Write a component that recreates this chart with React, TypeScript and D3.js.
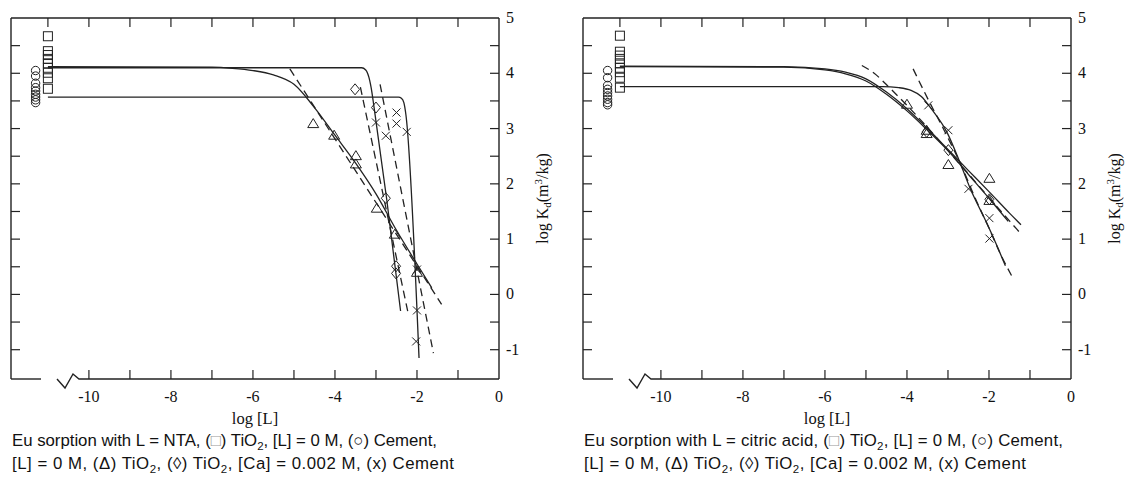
import React from 'react';
import * as d3 from 'd3';

type P = [number, number];

// ---- axis ticks ----
const xLabelTicks = [-10, -8, -6, -4, -2, 0];
const xTopTicks = [-11, -10, -9, -8, -7, -6, -5, -4, -3, -2, -1];
const xBottomTicks = [-10, -9, -8, -7, -6, -5, -4, -3, -2, -1];
const yLabelTicks = [-1, 0, 1, 2, 3, 4, 5];
const ySideTicks = [-1, -0.5, 0, 0.5, 1, 1.5, 2, 2.5, 3, 3.5, 4, 4.5];

// ---- NTA panel data ----
const ntaSquareX = -11;
const ntaSquares = [4.67, 4.4, 4.33, 4.26, 4.18, 4.1, 4.01, 3.91, 3.72];
const ntaCircleX = -11.3;
const ntaCircles = [4.05, 3.95, 3.82, 3.74, 3.68, 3.62, 3.57, 3.52, 3.47];
const ntaTriangles: P[] = [[-4.53, 3.09], [-4.02, 2.88], [-3.49, 2.51], [-3.49, 2.36], [-2.98, 1.56], [-2.54, 1.09], [-2.0, 0.4]];
const ntaDiamonds: P[] = [[-3.51, 3.71], [-3.0, 3.38], [-2.76, 1.74], [-2.51, 0.51], [-2.51, 0.38]];
const ntaCrosses: P[] = [[-3.0, 3.11], [-2.76, 2.87], [-2.5, 3.29], [-2.5, 3.09], [-2.25, 2.94], [-2.0, 0.45], [-2.0, -0.29], [-2.02, -0.85]];
const ntaFitTriangle: P[] = [[-11, 4.12], [-7, 4.11], [-6.5, 4.09], [-6, 4.05], [-5.5, 3.97], [-5, 3.8], [-4.5, 3.38], [-4, 2.88], [-3.5, 2.38], [-3, 1.82], [-2.5, 1.16], [-2, 0.55], [-1.64, 0.12]];
const ntaFitDiamond: P[] = [[-11, 4.1], [-3.35, 4.1], [-3.25, 4.06], [-3.17, 3.92], [-3.1, 3.66], [-3.05, 3.4], [-2.74, 1.73], [-2.4, -0.3]];
const ntaFitCross: P[] = [[-11, 3.57], [-2.45, 3.57], [-2.38, 3.55], [-2.32, 3.47], [-2.27, 3.25], [-1.95, -1.15]];
const ntaDashTriangle: P[] = [[-5.1, 4.08], [-1.4, -0.18]];
const ntaDashDiamond: P[] = [[-3.38, 3.75], [-2.21, -0.36]];
const ntaDashCross: P[] = [[-2.9, 3.8], [-1.6, -1.06]];

// ---- citric acid panel data ----
const citSquareX = -11;
const citSquares = [4.68, 4.39, 4.32, 4.26, 4.18, 4.1, 4.02, 3.92, 3.74];
const citCircleX = -11.3;
const citCircles = [4.05, 3.92, 3.78, 3.71, 3.65, 3.59, 3.53, 3.47, 3.43];
const citTriangles: P[] = [[-4.0, 3.44], [-3.52, 2.97], [-3.52, 2.91], [-2.99, 2.35], [-1.99, 2.1], [-1.99, 1.7]];
const citDiamonds: P[] = [[-3.52, 2.94], [-2.99, 2.61], [-1.99, 1.72]];
const citCrosses: P[] = [[-3.48, 3.42], [-2.99, 2.97], [-2.5, 1.91], [-1.99, 1.38], [-1.99, 1.01]];
const citFitTriangle: P[] = [[-11, 4.13], [-7, 4.12], [-6, 4.08], [-5.5, 4.02], [-5, 3.9], [-4.5, 3.66], [-4, 3.36], [-3.5, 3.0], [-3, 2.62], [-2.5, 2.24], [-2, 1.86], [-1.5, 1.47], [-1.22, 1.26]];
const citFitDiamond: P[] = [[-11, 4.12], [-7, 4.11], [-6, 4.06], [-5.5, 3.99], [-5, 3.86], [-4.5, 3.62], [-4, 3.32], [-3.5, 2.97], [-3, 2.6], [-2.5, 2.17], [-2, 1.74], [-1.53, 1.32]];
const citFitCross: P[] = [[-11, 3.76], [-4.6, 3.76], [-4.2, 3.74], [-3.9, 3.69], [-3.65, 3.58], [-3.4, 3.35], [-3.03, 2.94], [-2.71, 2.39], [-2.46, 1.92], [-2.06, 1.3], [-1.8, 0.87], [-1.6, 0.52]];
const citDashTriangle: P[] = [[-5.1, 4.14], [-4.8, 4.0], [-4.4, 3.72], [-4, 3.42], [-3.5, 3.02], [-3, 2.6], [-2.5, 2.18], [-2, 1.75], [-1.5, 1.33], [-1.25, 1.12]];
const citDashCross: P[] = [[-3.85, 4.08], [-3.5, 3.55], [-3.1, 2.98], [-2.7, 2.37], [-2.3, 1.68], [-2, 1.2], [-1.7, 0.7], [-1.45, 0.34]];

const captionLine2 = [
  { t: '[L] = 0 M, (Δ) TiO' }, { t: '2', sub: true }, { t: ', (◊) TiO' }, { t: '2', sub: true }, { t: ', [Ca] = 0.002 M, (x) Cement' },
];
const ntaCaption1 = [
  { t: 'Eu sorption with L = NTA, (' }, { t: '□', gray: true }, { t: ') TiO' }, { t: '2', sub: true }, { t: ', [L] = 0 M, (○) Cement,' },
];
const citCaption1 = [
  { t: 'Eu sorption with L = citric acid, (' }, { t: '□', gray: true }, { t: ') TiO' }, { t: '2', sub: true }, { t: ', [L] = 0 M, (○) Cement,' },
];

const INK = '#222';
const SERIF = '"Liberation Serif", "Times New Roman", serif';
const SANS = '"Liberation Sans", Arial, sans-serif';

type Seg = { t: string; sub?: boolean; gray?: boolean };

function Caption({ x, y, segs, width }: { x: number; y: number; segs: Seg[]; width: number }) {
  const out: React.ReactNode[] = [];
  let shifted = false;
  segs.forEach((s, i) => {
    if (s.sub) {
      out.push(<tspan key={i} dy={4} fontSize={11.5}>{s.t}</tspan>);
      shifted = true;
    } else {
      const dy = shifted ? -4 : 0;
      shifted = false;
      out.push(<tspan key={i} dy={dy} fill={s.gray ? '#999' : '#111'}>{s.t}</tspan>);
    }
  });
  return <text x={x} y={y} fontFamily={SANS} fontSize={16.8} fill="#111" textLength={width} lengthAdjust="spacing">{out}</text>;
}

type PanelProps = {
  x0: number;
  squareX: number; squares: number[];
  circleX: number; circles: number[];
  triangles: P[]; diamonds: P[]; crosses: P[];
  fits: P[][]; dashes: P[][];
  caption1: Seg[]; caption1Width: number;
};

function Panel(p: PanelProps) {
  const left = p.x0, right = p.x0 + 488, top = 18, bottom = 379;
  const x = d3.scaleLinear().domain([-11.9, 0]).range([left, right]);
  const y = d3.scaleLinear().domain([-1.53, 5]).range([bottom, top]);
  const line = d3.line<P>().x(d => x(d[0])).y(d => y(d[1])).curve(d3.curveMonotoneX);
  const tk = 9;
  const tri = (cx: number, cy: number) => `M${cx},${cy - 5}L${cx + 5.5},${cy + 4}L${cx - 5.5},${cy + 4}Z`;
  const dia = (cx: number, cy: number) => `M${cx},${cy - 5.5}L${cx + 4.5},${cy}L${cx},${cy + 5.5}L${cx - 4.5},${cy}Z`;
  const brk = p.x0 + 46;
  return (
    <g>
      {/* frame */}
      <line x1={left} x2={right} y1={top} y2={top} stroke={INK} strokeWidth={1.4} />
      <line x1={left} x2={left} y1={top} y2={bottom} stroke={INK} strokeWidth={1.4} />
      <line x1={right} x2={right} y1={top} y2={bottom} stroke={INK} strokeWidth={1.4} />
      <line x1={left} x2={left + 30} y1={bottom} y2={bottom} stroke={INK} strokeWidth={1.4} />
      <polyline points={`${brk},${bottom} ${brk + 8},${bottom + 9} ${brk + 16},${bottom - 5} ${brk + 22},${bottom} ${right},${bottom}`} fill="none" stroke={INK} strokeWidth={1.4} />
      {/* ticks */}
      {xTopTicks.map(v => <line key={'t' + v} x1={x(v)} x2={x(v)} y1={top} y2={top + tk} stroke={INK} strokeWidth={1.2} />)}
      {xBottomTicks.map(v => <line key={'b' + v} x1={x(v)} x2={x(v)} y1={bottom} y2={bottom - tk} stroke={INK} strokeWidth={1.2} />)}
      {ySideTicks.map(v => <line key={'l' + v} x1={left} x2={left + tk} y1={y(v)} y2={y(v)} stroke={INK} strokeWidth={1.2} />)}
      {ySideTicks.map(v => <line key={'r' + v} x1={right} x2={right - tk} y1={y(v)} y2={y(v)} stroke={INK} strokeWidth={1.2} />)}
      {/* tick labels */}
      {xLabelTicks.map(v => <text key={'xl' + v} x={x(v)} y={402} textAnchor="middle" fontFamily={SERIF} fontSize={16} fill="#111">{v}</text>)}
      {yLabelTicks.map(v => <text key={'yl' + v} x={right + 7} y={y(v) + 5} fontFamily={SERIF} fontSize={16} fill="#111">{v}</text>)}
      <text x={(left + right) / 2} y={424} textAnchor="middle" fontFamily={SERIF} fontSize={16.5} fill="#111">log [L]</text>
      <text transform={`translate(${right + 49},${(top + bottom) / 2}) rotate(-90)`} textAnchor="middle" fontFamily={SERIF} fontSize={16} fill="#111">
        log K<tspan dy={3} fontSize={11}>d</tspan><tspan dy={-3}>(m</tspan><tspan dy={-6} fontSize={11}>3</tspan><tspan dy={6}>/kg)</tspan>
      </text>
      {/* fits */}
      {p.fits.map((f, i) => <path key={'f' + i} d={line(f) || ''} fill="none" stroke={INK} strokeWidth={1.3} />)}
      {p.dashes.map((f, i) => <path key={'d' + i} d={line(f) || ''} fill="none" stroke={INK} strokeWidth={1.3} strokeDasharray="8,5" />)}
      {/* markers */}
      {p.squares.map((v, i) => <rect key={'s' + i} x={x(p.squareX) - 4.5} y={y(v) - 4.5} width={9} height={9} fill="none" stroke={INK} strokeWidth={1} />)}
      {p.circles.map((v, i) => <circle key={'c' + i} cx={x(p.circleX)} cy={y(v)} r={4.2} fill="none" stroke={INK} strokeWidth={1} />)}
      {p.triangles.map((d, i) => <path key={'tr' + i} d={tri(x(d[0]), y(d[1]))} fill="none" stroke={INK} strokeWidth={1} />)}
      {p.diamonds.map((d, i) => <path key={'di' + i} d={dia(x(d[0]), y(d[1]))} fill="none" stroke={INK} strokeWidth={1} />)}
      {p.crosses.map((d, i) => (
        <path key={'x' + i} d={`M${x(d[0]) - 4},${y(d[1]) - 4}L${x(d[0]) + 4},${y(d[1]) + 4}M${x(d[0]) - 4},${y(d[1]) + 4}L${x(d[0]) + 4},${y(d[1]) - 4}`} fill="none" stroke={INK} strokeWidth={1} />
      ))}
      <Caption x={left + 1} y={446} segs={p.caption1} width={p.caption1Width} />
      <Caption x={left + 1} y={469} segs={captionLine2} width={442} />
    </g>
  );
}

export default function App() {
  return (
    <svg width={1126} height={488} style={{ position: 'absolute', left: 0, top: 0, background: '#fff' }}>
      <rect width={1126} height={488} fill="#fff" />
      <Panel x0={11} squareX={ntaSquareX} squares={ntaSquares} circleX={ntaCircleX} circles={ntaCircles}
        triangles={ntaTriangles} diamonds={ntaDiamonds} crosses={ntaCrosses}
        fits={[ntaFitTriangle, ntaFitDiamond, ntaFitCross]} dashes={[ntaDashTriangle, ntaDashDiamond, ntaDashCross]}
        caption1={ntaCaption1} caption1Width={425} />
      <Panel x0={583} squareX={citSquareX} squares={citSquares} circleX={citCircleX} circles={citCircles}
        triangles={citTriangles} diamonds={citDiamonds} crosses={citCrosses}
        fits={[citFitTriangle, citFitDiamond, citFitCross]} dashes={[citDashTriangle, citDashCross]}
        caption1={citCaption1} caption1Width={479} />
    </svg>
  );
}
